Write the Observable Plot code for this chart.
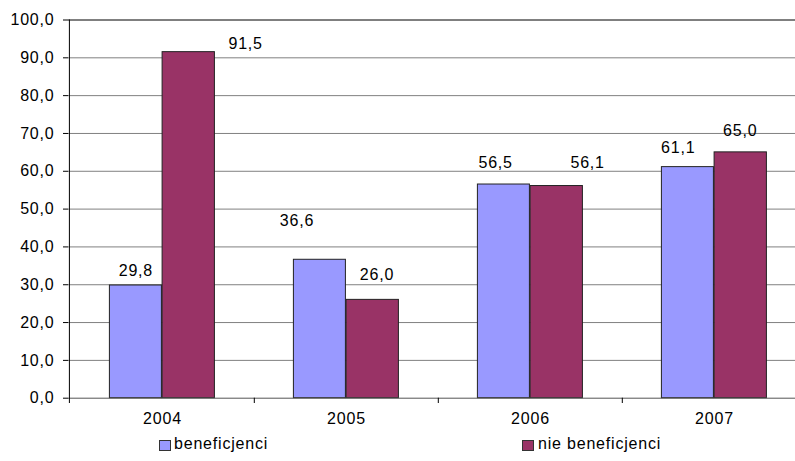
<!DOCTYPE html>
<html><head><meta charset="utf-8">
<script src="https://cdn.jsdelivr.net/npm/d3@7"></script>
<script src="https://cdn.jsdelivr.net/npm/@observablehq/plot@0.6"></script>
<style>
body{margin:0;background:#fff;position:relative;width:795px;height:461px;overflow:hidden;font-family:"Liberation Sans",Arial,sans-serif;}
.leg{position:absolute;font-size:16px;letter-spacing:0.8px;line-height:18px;color:#000;white-space:nowrap}
.sw{position:absolute;width:12px;height:11px;box-sizing:border-box;border:1px solid #333}
</style></head><body>
<div id="chart"></div>
<div class="sw" style="left:159px;top:440px;background:#9999FF"></div>
<div class="leg" id="leg0" style="left:174px;top:435px"></div>
<div class="sw" style="left:522px;top:440px;background:#993366"></div>
<div class="leg" id="leg1" style="left:538px;top:435px"></div>
<script>
const years = ["2004", "2005", "2006", "2007"];
const seriesNames = ["beneficjenci", "nie beneficjenci"];
const beneficjenci = [29.8, 36.6, 56.5, 61.1];
const nieBeneficjenci = [91.5, 26.0, 56.1, 65.0];
const yTicks = [0, 10, 20, 30, 40, 50, 60, 70, 80, 90, 100];

const fmt = v => v.toFixed(1).replace(".", ",");
const rows = years.flatMap((yr, i) => [
  {year: yr, series: seriesNames[0], value: beneficjenci[i]},
  {year: yr, series: seriesNames[1], value: nieBeneficjenci[i]}
]);

document.getElementById("leg0").textContent = seriesNames[0];
document.getElementById("leg1").textContent = seriesNames[1];

// label nudges (Excel-style placed labels), relative to band centre and value
const nudges = [
  [-26.6, -14.5], [83.1, -7.8],
  [-49.5, -39], [30.5, -24.7],
  [-34.9, -22], [57.1, -23.5],
  [-36.3, -19.6], [25.7, -21]
];

const colors = {"beneficjenci": "#9999FF", "nie beneficjenci": "#993366"};
const insets = {"beneficjenci": [39.4, 92.6], "nie beneficjenci": [92.1, 39.6]};
const txt = {fontSize: 16, fill: "#000"};

const marks = [
  Plot.ruleY(yTicks.filter(t => t > 0 && t < 100), {y: d => d, stroke: "#808080", strokeWidth: 1}),
  Plot.ruleY([100], {y: d => d, stroke: "#000"}),
  // y tick marks
  Plot.ruleY(yTicks, {y: d => d, insetLeft: -5, insetRight: 795 - 68, stroke: "#000"}),
  ...seriesNames.map(s => Plot.barY(rows.filter(r => r.series === s), {
    x: "year", y: "value", fill: colors[s], stroke: "#222", strokeWidth: 1,
    insetLeft: insets[s][0], insetRight: insets[s][1]
  })),
  Plot.ruleY([0], {y: d => d, stroke: "#555"}),
  // y axis line
  Plot.ruleX([years[0]], {x: d => d, dx: -93.1, insetBottom: -5.3, stroke: "#000"}),
  // x boundary ticks
  Plot.ruleX(years.slice(1), {x: d => d, dx: -92.2, insetTop: 378.2, insetBottom: -5.3, stroke: "#000"}),
  // y tick labels
  Plot.text(yTicks, {y: d => d, text: d => fmt(d), frameAnchor: "left", textAnchor: "end", dx: -14, ...txt}),
  // x tick labels
  Plot.text(years, {x: d => d, text: d => d, frameAnchor: "bottom", dy: 25.5, ...txt}),
  ...rows.map((r, i) => Plot.text([r], {
    x: "year", y: "value", text: d => fmt(d.value),
    dx: nudges[i][0], dy: nudges[i][1], ...txt
  }))
];

const chart = Plot.plot({
  width: 795,
  height: 436,
  marginLeft: 68,
  marginRight: 0,
  marginTop: 19.5,
  marginBottom: 38.3,
  style: {fontFamily: "'Liberation Sans', Arial, sans-serif", fontSize: "16px", letterSpacing: "0.8px", color: "#000", background: "#fff", overflow: "visible"},
  x: {type: "band", domain: years, range: [68.9, 806.5], padding: 0, paddingInner: 0, paddingOuter: 0, axis: null},
  y: {domain: [0, 100], axis: null},
  marks
});
document.getElementById("chart").appendChild(chart);
</script>
</body></html>
